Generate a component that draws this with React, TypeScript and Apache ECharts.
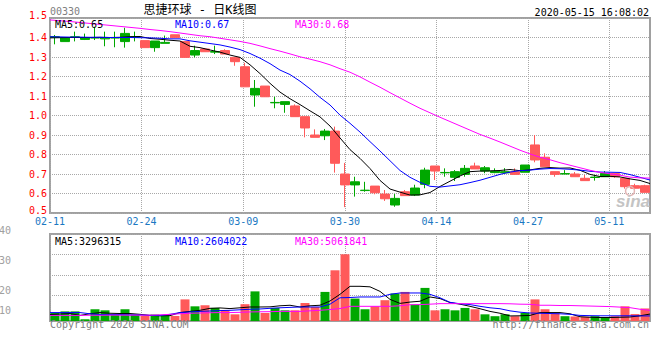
import React, { useEffect, useRef } from 'react';
import * as echarts from 'echarts';

const dates = ['02-11','02-12','02-13','02-14','02-17','02-18','02-19','02-20','02-21','02-24','02-25','02-26','02-27','02-28','03-02','03-03','03-04','03-05','03-06','03-09','03-10','03-11','03-12','03-13','03-16','03-17','03-18','03-19','03-20','03-30','03-31','04-01','04-02','04-03','04-06','04-07','04-08','04-09','04-14','04-15','04-16','04-17','04-20','04-21','04-22','04-23','04-24','04-27','04-28','04-29','05-04','05-05','05-06','05-07','05-08','05-11','05-12','05-13','05-14','05-15'];
const labelDates = ['02-11','02-24','03-09','03-30','04-14','04-27','05-11'];

const opens = [1.400,1.379,1.400,1.390,1.397,1.393,1.397,1.379,1.400,1.384,1.348,1.370,1.414,1.379,1.310,1.341,1.325,1.333,1.298,1.250,1.105,1.151,1.065,1.057,1.049,0.994,0.900,0.896,0.920,0.700,0.644,0.615,0.638,0.597,0.541,0.609,0.592,0.647,0.741,0.706,0.683,0.698,0.741,0.715,0.707,0.706,0.712,0.709,0.849,0.786,0.712,0.700,0.700,0.678,0.682,0.686,0.703,0.678,0.640,0.640];
const closes = [1.404,1.399,1.404,1.399,1.400,1.400,1.400,1.421,1.404,1.348,1.382,1.375,1.399,1.298,1.333,1.327,1.328,1.315,1.276,1.147,1.139,1.096,1.067,1.071,0.994,0.936,0.888,0.920,0.755,0.644,0.660,0.617,0.604,0.573,0.575,0.589,0.628,0.720,0.715,0.708,0.712,0.729,0.726,0.732,0.715,0.712,0.698,0.746,0.772,0.737,0.698,0.702,0.686,0.666,0.684,0.703,0.686,0.635,0.627,0.606];
const lows = [1.365,1.379,1.380,1.387,1.387,1.355,1.350,1.348,1.380,1.348,1.327,1.370,1.399,1.298,1.298,1.327,1.315,1.315,1.255,1.147,1.045,1.096,1.037,1.014,0.994,0.888,0.888,0.874,0.707,0.530,0.584,0.609,0.596,0.562,0.532,0.589,0.587,0.627,0.669,0.686,0.664,0.686,0.726,0.704,0.704,0.703,0.698,0.709,0.760,0.737,0.686,0.700,0.686,0.666,0.666,0.686,0.680,0.625,0.620,0.606];
const highs = [1.413,1.400,1.430,1.420,1.455,1.430,1.430,1.450,1.430,1.384,1.382,1.410,1.414,1.379,1.358,1.345,1.358,1.340,1.298,1.270,1.182,1.151,1.096,1.071,1.057,0.994,0.929,0.931,0.943,0.757,0.686,0.660,0.638,0.618,0.597,0.618,0.645,0.732,0.741,0.729,0.720,0.746,0.758,0.741,0.729,0.730,0.729,0.746,0.900,0.806,0.712,0.720,0.710,0.695,0.695,0.715,0.703,0.678,0.650,0.645];
const volumes = [3000000,3600000,3600000,650000,4400000,4000000,2400000,4400000,2400000,1900000,2400000,2100000,1900000,8100000,5500000,5900000,4900000,4000000,2500000,6300000,11100000,3000000,4900000,4000000,4000000,6750000,5250000,10900000,19000000,25000000,8400000,4400000,5500000,7800000,10300000,10900000,6200000,12400000,4000000,4400000,4000000,4900000,4400000,2500000,1800000,2500000,1800000,3000000,8100000,4400000,2900000,1800000,1700000,1600000,1800000,1500000,1800000,5500000,2600000,4700000];

// moving-average lines are plotted at the right edge of each day's band: one extra slot for the day before
const maSlots = ['02-10', ...dates];
const ma5 = [1.398,1.399,1.400,1.400,1.400,1.401,1.400,1.401,1.404,1.405,1.395,1.391,1.386,1.382,1.355,1.348,1.336,1.325,1.310,1.298,1.260,1.215,1.165,1.120,1.086,1.056,1.024,0.993,0.946,0.885,0.825,0.780,0.728,0.667,0.623,0.607,0.592,0.593,0.605,0.636,0.663,0.690,0.712,0.715,0.716,0.718,0.723,0.717,0.721,0.729,0.733,0.730,0.731,0.719,0.698,0.687,0.688,0.685,0.675,0.667,0.651];
const ma10 = [1.404,1.403,1.402,1.402,1.401,1.401,1.400,1.400,1.400,1.399,1.398,1.396,1.393,1.393,1.383,1.376,1.369,1.362,1.351,1.338,1.318,1.294,1.266,1.233,1.210,1.176,1.137,1.093,1.054,1.002,0.960,0.915,0.866,0.818,0.768,0.718,0.683,0.657,0.637,0.633,0.639,0.645,0.656,0.668,0.683,0.698,0.710,0.717,0.720,0.725,0.728,0.727,0.724,0.720,0.714,0.710,0.709,0.708,0.697,0.683,0.669];
const ma30 = [1.490,1.486,1.482,1.477,1.472,1.467,1.462,1.457,1.452,1.447,1.441,1.436,1.430,1.423,1.416,1.409,1.404,1.396,1.388,1.380,1.370,1.357,1.343,1.330,1.316,1.301,1.289,1.276,1.260,1.240,1.222,1.198,1.171,1.145,1.117,1.090,1.063,1.037,1.014,0.991,0.969,0.947,0.925,0.903,0.884,0.864,0.843,0.822,0.803,0.786,0.773,0.758,0.745,0.732,0.719,0.708,0.701,0.694,0.684,0.680,0.679];
const volMa5 = [2400000,2600000,2800000,2100000,2700000,3150000,2900000,2800000,2800000,2500000,2100000,1950000,2000000,3150000,3600000,4000000,4750000,4900000,4650000,4950000,5250000,5250000,5300000,5700000,5900000,5250000,5700000,5900000,7500000,10000000,13000000,13000000,12800000,11100000,8100000,6600000,7100000,7400000,9000000,8400000,6900000,6300000,5500000,4600000,3600000,2900000,1900000,1950000,2100000,3150000,3150000,3150000,2700000,1600000,1400000,1300000,1300000,1400000,1500000,1950000,2600000];
const volMa10 = [3150000,3150000,3150000,3150000,2700000,2400000,2400000,2400000,2300000,2250000,2100000,2100000,2500000,3150000,3400000,3600000,3750000,3900000,4000000,4200000,4400000,4500000,4750000,4950000,5100000,5250000,5250000,5250000,6300000,8700000,8800000,9000000,9000000,9000000,10000000,10500000,10500000,10500000,10000000,8700000,7000000,6450000,6150000,5500000,4950000,4600000,3800000,3300000,3000000,2900000,2800000,2700000,2500000,2100000,2000000,1950000,1950000,1950000,1950000,1900000,1900000];
const volMa30 = [2100000,2100000,2100000,2100000,2150000,2150000,2200000,2200000,2200000,2200000,2200000,2300000,2500000,2700000,2900000,3000000,3100000,3150000,3150000,3250000,3400000,3450000,3500000,3600000,3600000,3600000,3800000,4000000,4300000,4650000,5500000,5500000,5500000,5500000,5500000,5700000,6100000,6150000,6300000,6500000,6500000,6500000,6500000,6500000,6500000,6500000,6450000,6300000,6250000,5900000,5900000,5800000,5800000,5700000,5600000,5500000,5400000,5200000,5000000,4400000,4000000];

const volAxisLabels = ['40', '30', '20', '10'];
const priceLegend = ['MA5:0.65', 'MA10:0.67', 'MA30:0.68'];
const volLegend = ['MA5:3296315', 'MA10:2604022', 'MA30:5061841'];
const stockCode = '00330';
const titleText = '思捷环球 - 日K线图';
const stampText = '2020-05-15 16:08:02';

const UP = '#00a800';
const DOWN = '#ff5a5a';
const MONO = '"DejaVu Sans Mono", "Liberation Mono", monospace';
const maColors = ['#000000', '#0000ff', '#ff00ff'];

export default function App() {
  const ref = useRef<HTMLDivElement>(null);
  useEffect(() => {
    document.body.style.margin = '0';
    if (!ref.current) return;
    const chart = echarts.init(ref.current, undefined, { renderer: 'svg' });
    const labelIdx = new Set(labelDates.map((d) => dates.indexOf(d)));
    const showIdx = (i: number) => labelIdx.has(i);
    const dotted = { color: '#a8a8a8', type: [1, 1] as any, width: 1 };
    const legendX = [55, 175, 295];

    const texts: any[] = [];
    const addText = (text: string, x: number, y: number, fill: string, font: string, align = 'left') => {
      texts.push({ type: 'text', x, y, silent: true, z: 10, style: { text, fill, font, textAlign: align, textVerticalAlign: 'middle' } });
    };
    addText(stockCode, 50, 11, '#808080', `10px ${MONO}`);
    addText(titleText, 200, 10, '#000000', '12px "DejaVu Sans Mono", "Noto Sans CJK SC"', 'center');
    addText(stampText, 649, 12, '#000000', `10px ${MONO}`, 'right');
    priceLegend.forEach((t, i) => addText(t, legendX[i], 24, maColors[i], `10px ${MONO}`));
    volLegend.forEach((t, i) => addText(t, legendX[i], 241, maColors[i], `10px ${MONO}`));
    const volLabelY = [230, 260, 290, 310.5];
    volAxisLabels.forEach((t, i) => addText(t, 11, volLabelY[i], '#a0a0a0', `10px ${MONO}`, 'right'));
    addText('Copyright 2020 SINA.COM', 50, 324.5, '#808080', `10px ${MONO}`);
    addText('http://finance.sina.com.cn', 649, 324, '#808080', `10px ${MONO}`, 'right');
    texts.push({ type: 'circle', silent: true, z: 9, shape: { cx: 630, cy: 191, r: 4.5 }, style: { fill: 'none', stroke: '#e2b4b4', lineWidth: 1.5 } });
    addText('sina', 633, 201, '#c4c4c4', 'italic bold 17px "Liberation Sans"', 'center');

    const lineSeries = (data: number[], color: string, xi: number, yi: number) => ({
      type: 'line', xAxisIndex: xi, yAxisIndex: yi, data, symbol: 'none', silent: true,
      lineStyle: { color, width: 1 }, z: 3,
    });
    const labelFont = { color: '#ff0000', fontFamily: MONO, fontSize: 10 };

    chart.setOption({
      animation: false,
      grid: [
        { left: 50, top: 18, width: 600, height: 195, show: true, borderColor: '#a0a0a0', borderWidth: 2 },
        { left: 50, top: 234, width: 600, height: 87, show: true, borderColor: '#a0a0a0', borderWidth: 2 },
        { left: 50, top: 234, width: 600, height: 61.5, show: false },
      ],
      xAxis: [
        { type: 'category', gridIndex: 0, data: dates, boundaryGap: true, show: false },
        { type: 'category', gridIndex: 0, data: maSlots, boundaryGap: false, show: false },
        {
          type: 'category', gridIndex: 0, data: dates, boundaryGap: false, position: 'bottom',
          axisLine: { show: false }, axisTick: { show: false },
          axisLabel: { interval: (i: number) => showIdx(i), color: '#1a78c2', fontFamily: MONO, fontSize: 10, margin: 3 },
          splitLine: { show: true, interval: (i: number) => showIdx(i), lineStyle: dotted },
        },
        { type: 'category', gridIndex: 1, data: dates, boundaryGap: true, show: false },
        { type: 'category', gridIndex: 1, data: maSlots, boundaryGap: false, show: false },
        {
          type: 'category', gridIndex: 1, data: dates, boundaryGap: false, position: 'bottom',
          axisLine: { show: false }, axisTick: { show: false }, axisLabel: { show: false },
          splitLine: { show: true, interval: (i: number) => showIdx(i), lineStyle: dotted },
        },
        { type: 'value', gridIndex: 2, min: 0, max: 1, show: false },
      ],
      yAxis: [
        {
          type: 'value', gridIndex: 0, min: 0.5, max: 1.5, interval: 0.1,
          axisLine: { show: false }, axisTick: { show: false },
          axisLabel: {
            ...labelFont, margin: 3,
            formatter: (v: number) => {
              const s = v.toFixed(1);
              if (Math.abs(v - 0.5) < 1e-6 || Math.abs(v - 1.5) < 1e-6) return `{edge|${s}}`;
              return s;
            },
            rich: { edge: { ...labelFont, padding: [0, 0, 5, 0] } },
          },
          splitLine: { show: true, lineStyle: dotted },
        },
        { type: 'value', gridIndex: 1, min: 0, max: 32600000, show: false, splitLine: { show: false } },
        {
          type: 'value', gridIndex: 2, min: 0, max: 3, interval: 1,
          axisLine: { show: false }, axisTick: { show: false }, axisLabel: { show: false },
          splitLine: { show: true, lineStyle: dotted },
        },
      ],
      series: [
        {
          type: 'candlestick', xAxisIndex: 0, yAxisIndex: 0, barWidth: 9, silent: true,
          data: dates.map((_, i) => [opens[i], closes[i], lows[i], highs[i]]),
          itemStyle: { color: UP, color0: DOWN, borderColor: UP, borderColor0: DOWN, borderWidth: 1 },
        },
        lineSeries(ma5, maColors[0], 1, 0),
        lineSeries(ma10, maColors[1], 1, 0),
        lineSeries(ma30, maColors[2], 1, 0),
        {
          type: 'bar', xAxisIndex: 3, yAxisIndex: 1, barWidth: 9, silent: true,
          data: volumes.map((v, i) => ({ value: v, itemStyle: { color: closes[i] >= opens[i] ? UP : DOWN } })),
        },
        lineSeries(volMa5, maColors[0], 4, 1),
        lineSeries(volMa10, maColors[1], 4, 1),
        lineSeries(volMa30, maColors[2], 4, 1),
      ],
      graphic: texts,
    });
    return () => chart.dispose();
  }, []);
  return <div ref={ref} style={{ width: 660, height: 360 }} />;
}
